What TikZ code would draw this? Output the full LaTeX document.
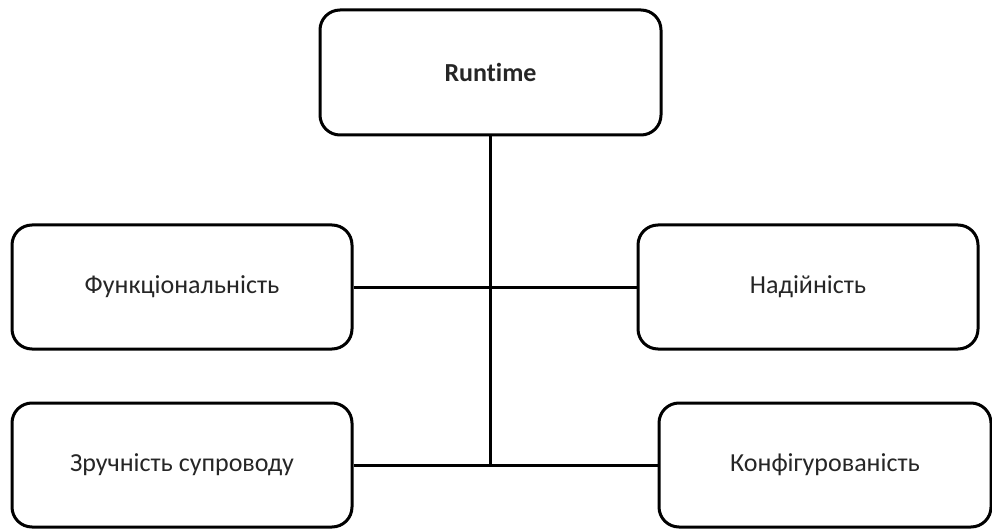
\documentclass[tikz,border=0pt]{standalone}
\usepackage{fontspec}
\setmainfont{Carlito}[Ligatures=NoCommon]
\usepackage{tikz}

\begin{document}
\begin{tikzpicture}[x=1pt,y=-1pt]
        \tikzset{box/.style={rectangle, rounded corners=20pt, draw=black, line width=3pt, fill=white, minimum width=340pt, minimum height=124pt, inner sep=0pt, font=\fontsize{26}{31}\selectfont, text=black!85}}
        \useasboundingbox (0,0) rectangle (992,529);

	%---NODES---
        \node[box, minimum width=341pt, minimum height=125pt, font=\fontsize{26}{31}\selectfont\bfseries] (1) at (490.5,72.5) {Runtime};

        \node[box] (2) at (182,287) {Функціональність};
        \node[box] (3) at (808,287) {Надійність};

        \node[box] (4) at (182,465) {Зручність супроводу};
        \node[box, minimum width=332pt] (5) at (825,465) {Конфігурованість};

	%---EDGES---
        \draw[line width=3pt]   (1.south) -- (1.south |- 4.east) ;
        \draw[line width=3pt]   (2.east) -- (3.west) ;
        \draw[line width=3pt]   (4.east) -- (5.west) ;
    \end{tikzpicture}
\end{document}
